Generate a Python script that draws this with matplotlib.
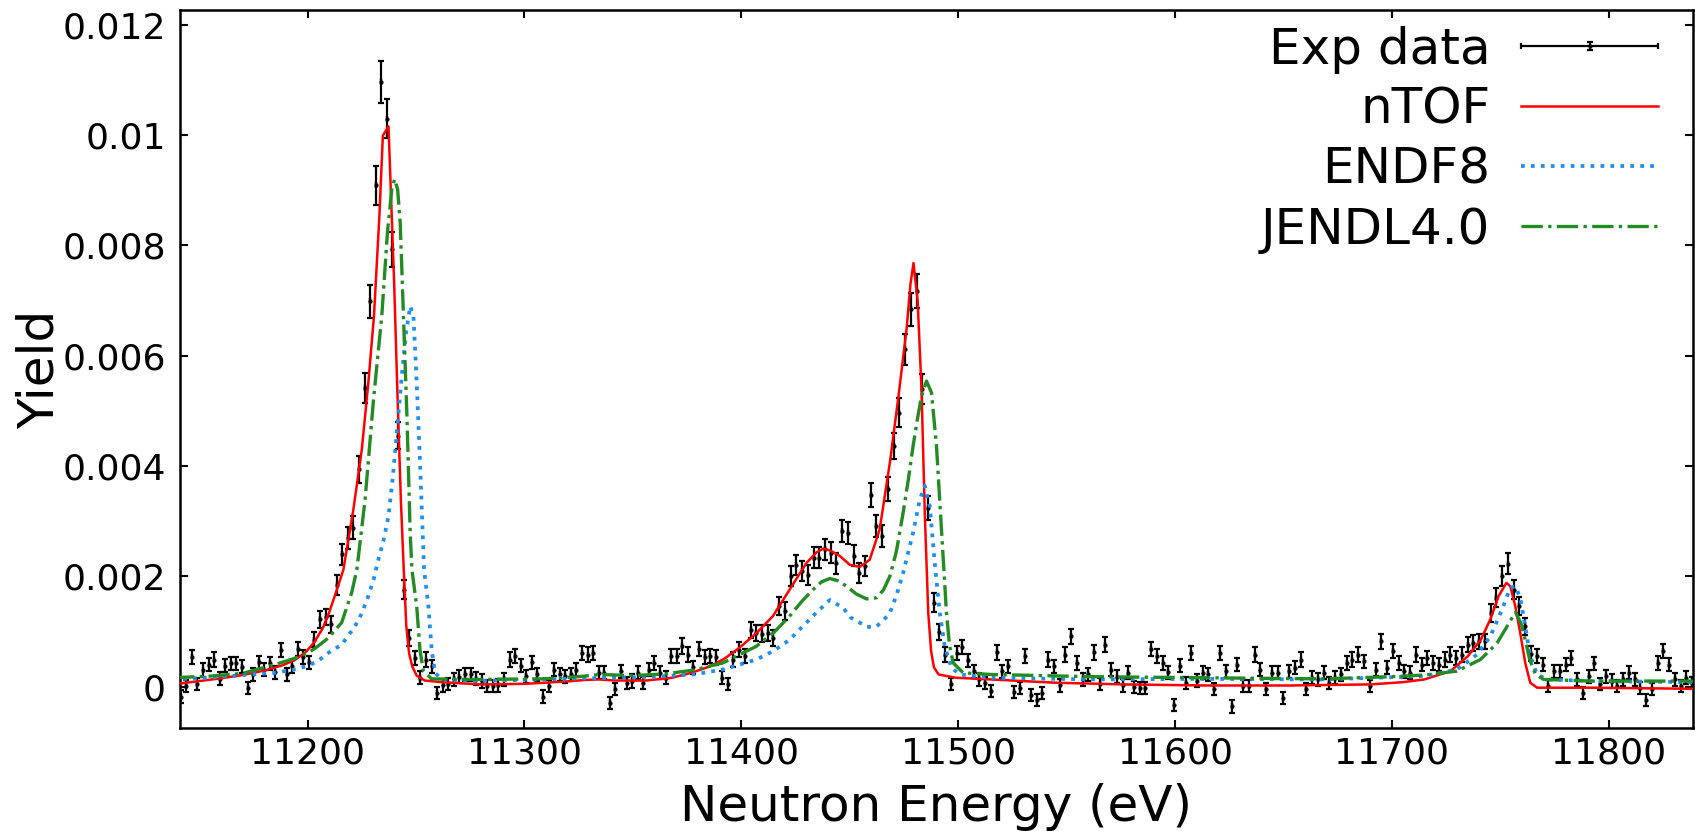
import numpy as np
import matplotlib
matplotlib.use('Agg')
import matplotlib.pyplot as plt
from matplotlib.ticker import FuncFormatter
from matplotlib.legend_handler import HandlerErrorbar
from matplotlib.container import ErrorbarContainer

# ---------------- experimental data (yield in units of 1e-3) ----------------
# energy bins (three stretches read off the picture, bin width grows a little with E)
e_seg1 = np.linspace(11141.5, 11377.9, 93)
e_seg2 = np.linspace(11380.5, 11615.4, 90)
e_seg3 = np.linspace(11618.1, 11838.5, 84)

y_seg1 = [-0.18, 0.01, 0.54, 0.05, 0.30, 0.40, 0.49, 0.14, 0.38, 0.42,
          0.42, 0.36, -0.02, 0.22, 0.44, 0.31, 0.42, 0.26, 0.66, 0.22,
          0.37, 0.68, 0.54, 0.44, 0.85, 1.22, 1.26, 1.13, 1.85, 2.40,
          2.70, 2.88, 3.94, 5.42, 6.99, 9.09, 10.96, 10.30, 7.93, 4.55,
          1.76, 0.88, 0.52, 0.16, 0.49, 0.37, -0.11, 0.02, 0.05, 0.13,
          0.18, 0.22, 0.22, 0.14, 0.10, 0.01, 0.01, 0.02, 0.13, 0.49,
          0.55, 0.38, 0.19, 0.44, 0.22, -0.18, 0.01, 0.31, 0.22, 0.19,
          0.22, 0.31, 0.61, 0.58, 0.61, 0.25, 0.25, -0.30, -0.05, 0.28,
          0.07, 0.10, 0.25, 0.07, 0.31, 0.43, 0.25, 0.16, 0.55, 0.55,
          0.74, 0.58, 0.35]
err_seg1 = [0.11, 0.11, 0.13, 0.11, 0.12, 0.12, 0.13, 0.12, 0.12, 0.12,
            0.12, 0.12, 0.11, 0.12, 0.12, 0.12, 0.12, 0.12, 0.13, 0.12,
            0.12, 0.13, 0.13, 0.12, 0.14, 0.15, 0.15, 0.15, 0.18, 0.19,
            0.20, 0.21, 0.24, 0.27, 0.30, 0.35, 0.38, 0.36, 0.32, 0.25,
            0.18, 0.14, 0.13, 0.12, 0.13, 0.12, 0.11, 0.11, 0.11, 0.12,
            0.12, 0.12, 0.12, 0.12, 0.12, 0.11, 0.11, 0.11, 0.12, 0.13,
            0.13, 0.12, 0.12, 0.12, 0.12, 0.11, 0.11, 0.12, 0.12, 0.12,
            0.12, 0.12, 0.13, 0.13, 0.13, 0.12, 0.12, 0.11, 0.11, 0.12,
            0.11, 0.12, 0.12, 0.11, 0.12, 0.12, 0.12, 0.12, 0.13, 0.13,
            0.14, 0.13, 0.12]

y_seg2 = [0.68, 0.54, 0.55, 0.53, 0.16, 0.05, 0.49, 0.67, 0.55, 1.03,
          0.97, 0.96, 0.97, 0.88, 1.46, 1.37, 2.00, 2.21, 2.09, 2.03,
          2.34, 2.34, 2.49, 2.43, 2.24, 2.82, 2.79, 2.37, 2.06, 2.18,
          3.48, 2.92, 2.73, 3.58, 4.36, 4.97, 6.12, 6.84, 7.17, 5.39,
          3.24, 1.52, 0.99, 0.58, 0.04, 0.61, 0.72, 0.48, 0.28, 0.13,
          0.07, -0.08, 0.62, 0.28, 0.37, -0.10, -0.02, 0.55, -0.16, -0.24,
          -0.11, 0.49, 0.37, 0.02, 0.58, 0.91, 0.43, 0.13, 0.22, 0.62,
          0.04, 0.76, 0.31, 0.18, 0.02, 0.25, 0.00, -0.02, -0.02, 0.68,
          0.56, 0.43, 0.26, -0.34, 0.38, 0.07, 0.61, 0.11, 0.25, 0.22]
err_seg2 = [0.13, 0.13, 0.13, 0.13, 0.12, 0.11, 0.13, 0.13, 0.13, 0.15,
            0.15, 0.15, 0.15, 0.14, 0.16, 0.16, 0.18, 0.18, 0.18, 0.18,
            0.19, 0.19, 0.19, 0.19, 0.19, 0.20, 0.20, 0.19, 0.18, 0.18,
            0.22, 0.20, 0.20, 0.22, 0.24, 0.26, 0.28, 0.30, 0.31, 0.27,
            0.22, 0.17, 0.15, 0.13, 0.11, 0.13, 0.13, 0.12, 0.12, 0.12,
            0.11, 0.11, 0.13, 0.12, 0.12, 0.11, 0.11, 0.13, 0.11, 0.11,
            0.11, 0.13, 0.12, 0.11, 0.13, 0.14, 0.12, 0.12, 0.12, 0.13,
            0.11, 0.14, 0.12, 0.12, 0.11, 0.12, 0.11, 0.11, 0.11, 0.13,
            0.13, 0.12, 0.12, 0.11, 0.12, 0.11, 0.13, 0.12, 0.12, 0.12]

y_seg3 = [-0.05, 0.61, 0.28, -0.36, 0.40, 0.01, 0.01, 0.58, 0.31, -0.05,
          0.25, 0.25, -0.21, 0.28, 0.34, 0.49, -0.05, 0.16, 0.13, 0.25,
          0.07, 0.16, 0.22, 0.43, 0.49, 0.58, 0.46, 0.01, 0.31, 0.82,
          0.34, 0.64, 0.43, 0.28, 0.25, 0.58, 0.40, 0.52, 0.43, 0.40,
          0.49, 0.58, 0.52, 0.58, 0.76, 0.79, 0.82, 0.82, 1.34, 1.61,
          2.00, 2.23, 1.76, 1.46, 1.09, 0.60, 0.55, 0.40, 0.01, 0.28,
          0.28, 0.40, 0.52, 0.13, -0.11, 0.19, 0.42, 0.04, 0.19, 0.10,
          0.01, 0.13, 0.25, 0.13, -0.02, -0.25, -0.05, 0.43, 0.64, 0.40,
          0.13, 0.01, 0.16, 0.07]
err_seg3 = [0.11, 0.13, 0.12, 0.11, 0.12, 0.11, 0.11, 0.13, 0.12, 0.11,
            0.12, 0.12, 0.11, 0.12, 0.12, 0.13, 0.11, 0.12, 0.12, 0.12,
            0.11, 0.12, 0.12, 0.12, 0.13, 0.13, 0.12, 0.11, 0.12, 0.14,
            0.12, 0.13, 0.12, 0.12, 0.12, 0.13, 0.12, 0.13, 0.12, 0.12,
            0.13, 0.13, 0.13, 0.13, 0.14, 0.14, 0.14, 0.14, 0.16, 0.17,
            0.18, 0.19, 0.17, 0.16, 0.15, 0.13, 0.13, 0.12, 0.11, 0.12,
            0.12, 0.12, 0.13, 0.12, 0.11, 0.12, 0.12, 0.11, 0.12, 0.12,
            0.11, 0.12, 0.12, 0.12, 0.11, 0.11, 0.11, 0.12, 0.13, 0.12,
            0.12, 0.11, 0.12, 0.11]

exp_e = np.concatenate([e_seg1, e_seg2, e_seg3])
exp_y = np.array(y_seg1 + y_seg2 + y_seg3) * 1e-3
exp_err = np.array(err_seg1 + err_seg2 + err_seg3) * 1e-3

# ---------------- calculated yields (1e-3) ----------------
ntof_e = [11138, 11150, 11160, 11170, 11180, 11188, 11194, 11199, 11203, 11207,
          11210, 11213, 11216.5, 11221.1, 11225.0, 11228.0, 11230.6, 11233.1, 11234.7, 11237.3,
          11239.9, 11241.5, 11243.0, 11244.3, 11245.5, 11246.8, 11248.3, 11250.3, 11254, 11262,
          11280, 11300, 11318, 11328, 11334, 11342, 11356, 11368, 11377, 11385,
          11392, 11399, 11407, 11414.6, 11422.3, 11430, 11434.6, 11437.7, 11440.8, 11445.4,
          11450, 11454.6, 11459.2, 11463.8, 11468.5, 11472.3, 11476.2, 11478.0, 11479.4, 11481.3,
          11483.1, 11484.6, 11486.2, 11487.5, 11488.8, 11491, 11499, 11515, 11545, 11576,
          11615, 11653, 11690, 11705, 11715, 11727, 11735, 11741, 11745.4, 11749.2,
          11752.8, 11754.6, 11756.9, 11759.2, 11761.5, 11763.8, 11767, 11792, 11840]
ntof_y = [0.04, 0.10, 0.15, 0.21, 0.29, 0.38, 0.48, 0.62, 0.80, 1.06,
          1.35, 1.70, 2.12, 3.21, 4.30, 5.51, 6.72, 8.54, 9.99, 10.16,
          7.33, 5.21, 3.39, 2.15, 1.10, 0.60, 0.36, 0.20, 0.11, 0.08,
          0.04, 0.05, 0.09, 0.12, 0.13, 0.11, 0.11, 0.16, 0.25, 0.36,
          0.50, 0.70, 0.97, 1.28, 1.76, 2.24, 2.43, 2.50, 2.47, 2.37,
          2.21, 2.17, 2.30, 2.85, 4.06, 5.21, 6.48, 7.30, 7.68, 7.00,
          5.39, 3.15, 1.34, 0.65, 0.35, 0.22, 0.16, 0.13, 0.07, 0.04,
          0.02, 0.02, 0.04, 0.08, 0.13, 0.28, 0.55, 0.85, 1.22, 1.64,
          1.88, 1.82, 1.46, 0.97, 0.43, 0.07, -0.02, -0.02, -0.04]

endf_e = [11138, 11155, 11170, 11185, 11195, 11200.3, 11205, 11209.5, 11215.7, 11221.8,
          11225, 11228, 11230.5, 11232.6, 11235, 11237.3, 11239.3, 11241.1, 11243.4, 11245.4,
          11247.3, 11248.8, 11250.3, 11251.9, 11253.7, 11255.7, 11257.2, 11258.8, 11261.8, 11277,
          11308, 11339, 11360, 11378, 11391.5, 11406.9, 11415, 11422.3, 11428, 11434.6,
          11440.8, 11446.9, 11450.5, 11454.6, 11458, 11462.3, 11465.5, 11468.5, 11471.5, 11474.6,
          11479.2, 11482.3, 11484.6, 11486.9, 11489.2, 11491.5, 11493.8, 11496.9, 11500.8, 11515,
          11561, 11615, 11668, 11700, 11715, 11730, 11739.2, 11745.4, 11750.8, 11754.6,
          11756.9, 11759.2, 11761.5, 11763.8, 11766.9, 11771.5, 11792, 11840]
endf_y = [0.13, 0.16, 0.21, 0.25, 0.32, 0.38, 0.47, 0.61, 0.76, 1.09,
          1.33, 1.64, 1.95, 2.30, 2.65, 3.09, 3.80, 4.60, 5.63, 6.42,
          6.90, 6.72, 5.51, 4.00, 2.12, 1.46, 0.67, 0.25, 0.13, 0.10,
          0.13, 0.16, 0.18, 0.22, 0.31, 0.49, 0.65, 0.85, 1.08, 1.34,
          1.57, 1.43, 1.25, 1.16, 1.08, 1.09, 1.20, 1.34, 1.65, 2.06,
          2.79, 3.39, 3.64, 3.27, 2.24, 1.34, 0.73, 0.34, 0.22, 0.16,
          0.13, 0.14, 0.13, 0.17, 0.19, 0.31, 0.58, 0.91, 1.40, 1.79,
          1.82, 1.61, 1.09, 0.55, 0.22, 0.13, 0.10, 0.08]

jendl_e = [11138, 11155, 11170, 11185, 11193, 11200.3, 11205, 11209.5, 11213, 11215.7,
           11220.3, 11222.7, 11226.5, 11230.4, 11234.2, 11236.8, 11238.8, 11240.1, 11241.5, 11242.7,
           11244.2, 11245.8, 11247.3, 11248.1, 11250.3, 11251.8, 11253.4, 11257.2, 11277, 11308,
           11325, 11335, 11350, 11365, 11378, 11391.5, 11406.9, 11415, 11422.3, 11428,
           11433.1, 11437, 11440.8, 11444.5, 11448.5, 11453, 11457.7, 11462.3, 11465.5, 11468.5,
           11471.5, 11474.6, 11477, 11479.2, 11481.2, 11483.1, 11485.4, 11487.7, 11490.0, 11492.3,
           11494.6, 11496, 11497.7, 11502.3, 11515, 11561, 11615, 11668, 11700, 11715,
           11730, 11740.8, 11745, 11748.5, 11753.1, 11757, 11759.5, 11761.5, 11763.5, 11766.2,
           11770, 11792, 11840]
jendl_y = [0.16, 0.19, 0.24, 0.40, 0.50, 0.61, 0.74, 0.88, 1.04, 1.16,
           1.70, 2.12, 3.39, 5.21, 6.72, 8.23, 9.02, 9.20, 9.02, 8.41,
           6.72, 4.91, 2.79, 2.12, 1.46, 0.67, 0.28, 0.14, 0.13, 0.14,
           0.18, 0.22, 0.20, 0.23, 0.30, 0.43, 0.73, 0.98, 1.28, 1.55,
           1.76, 1.90, 1.96, 1.92, 1.82, 1.68, 1.59, 1.61, 1.75, 2.00,
           2.45, 3.15, 3.75, 4.36, 4.85, 5.27, 5.54, 5.33, 4.36, 2.85,
           1.34, 0.75, 0.43, 0.25, 0.22, 0.18, 0.16, 0.14, 0.18, 0.21,
           0.28, 0.49, 0.65, 0.79, 1.09, 1.35, 1.15, 0.85, 0.50, 0.22,
           0.13, 0.10, 0.10]

labels = ['Exp data', 'nTOF', 'ENDF8', 'JENDL4.0']

fig = plt.figure(figsize=(16.95, 8.31), dpi=100)
ax = fig.add_axes([0.106, 0.124, 0.893, 0.864])

eb = ax.errorbar(exp_e, exp_y, yerr=exp_err, xerr=0, fmt='.', color='black',
                 ms=4, elinewidth=1.6, capsize=2.5, capthick=1.6, zorder=2)
l1, = ax.plot(ntof_e, np.array(ntof_y) * 1e-3, color='red', linestyle='solid', linewidth=1.8, zorder=3)
l2, = ax.plot(endf_e, np.array(endf_y) * 1e-3, color='#1e8ff0', linestyle=':', linewidth=2.7, zorder=3)
l3, = ax.plot(jendl_e, np.array(jendl_y) * 1e-3, color='#228b22', linestyle='-.', linewidth=2.4, zorder=3)

ax.set_xlim(11141, 11839)
ax.set_ylim(-0.00075, 0.01227)
ax.set_xticks([11200, 11300, 11400, 11500, 11600, 11700, 11800])
ax.set_yticks([0, 0.002, 0.004, 0.006, 0.008, 0.01, 0.012])
ax.yaxis.set_major_formatter(FuncFormatter(lambda v, p: '%g' % round(v, 4)))
ax.tick_params(direction='in', top=True, right=True, length=6, width=1.5, labelsize=26)
ax.tick_params(axis='y', pad=10)
ax.tick_params(axis='x', pad=6)
for s in ax.spines.values():
    s.set_linewidth(1.8)

ax.set_xlabel('Neutron Energy (eV)', fontsize=36, labelpad=9)
ax.set_ylabel('Yield', fontsize=36, labelpad=-1)

ax.legend([eb, l1, l2, l3], labels, loc='upper right', bbox_to_anchor=(0.977, 0.978),
          frameon=False, fontsize=36, markerfirst=False, handlelength=2.74,
          handletextpad=0.62, labelspacing=0.24, borderpad=0, borderaxespad=0,
          handler_map={ErrorbarContainer: HandlerErrorbar(xerr_size=1.37, yerr_size=0.08)})

fig.savefig('out.png', dpi=100)
